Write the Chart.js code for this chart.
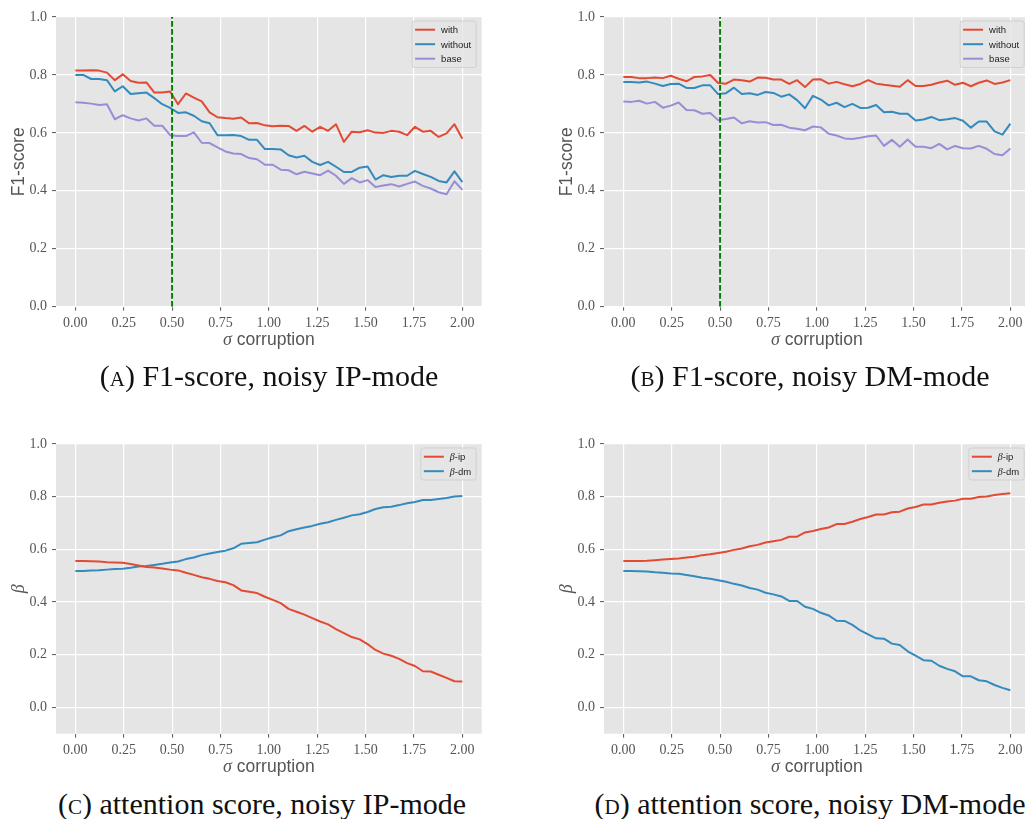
<!DOCTYPE html>
<html>
<head>
<meta charset="utf-8">
<script src="https://cdn.jsdelivr.net/npm/chart.js@4.4.1/dist/chart.umd.min.js"></script>
<style>
  html, body { margin: 0; padding: 0; background: #fff; }
  #page { position: relative; width: 1025px; height: 819px; overflow: hidden; }
  canvas { position: absolute; }
  .cap { position: absolute; width: 500px; text-align: center; font-family: "Liberation Serif", serif;
         font-size: 30px; line-height: 30px; color: #111; white-space: nowrap; }
  .sc { font-variant: small-caps; }
</style>
</head>
<body>
<div id="page">
  <canvas id="chart-a" width="500" height="360" style="left:0px;top:0px"></canvas>
  <canvas id="chart-b" width="500" height="360" style="left:548px;top:0px"></canvas>
  <canvas id="chart-c" width="500" height="360" style="left:0px;top:427px"></canvas>
  <canvas id="chart-d" width="500" height="360" style="left:548px;top:427px"></canvas>
  <div class="cap" style="left:19px;top:361px"><span class="sc">(a)</span> F1-score, noisy IP-mode</div>
  <div class="cap" style="left:560px;top:361px"><span class="sc">(b)</span> F1-score, noisy DM-mode</div>
  <div class="cap" style="left:12px;top:789px"><span class="sc">(c)</span> attention score, noisy IP-mode</div>
  <div class="cap" style="left:560px;top:789px"><span class="sc">(d)</span> attention score, noisy DM-mode</div>
</div>
<script>
// noise levels (sigma) the models were evaluated at
var sigma = [0, 0.0408, 0.0816, 0.1224, 0.1633, 0.2041, 0.2449, 0.2857, 0.3265, 0.3673,
             0.4082, 0.4490, 0.4898, 0.5306, 0.5714, 0.6122, 0.6531, 0.6939, 0.7347, 0.7755,
             0.8163, 0.8571, 0.8980, 0.9388, 0.9796, 1.0204, 1.0612, 1.1020, 1.1429, 1.1837,
             1.2245, 1.2653, 1.3061, 1.3469, 1.3878, 1.4286, 1.4694, 1.5102, 1.5510, 1.5918,
             1.6327, 1.6735, 1.7143, 1.7551, 1.7959, 1.8367, 1.8776, 1.9184, 1.9592, 2.0];
var xTicks = [0, 0.25, 0.5, 0.75, 1.0, 1.25, 1.5, 1.75, 2.0];
var yTicks = [0, 0.2, 0.4, 0.6, 0.8, 1.0];
var cutoff = 0.5;

// F1-score, noisy IP-mode
var ipWith = [0.815, 0.815, 0.816, 0.815, 0.808, 0.782, 0.802, 0.779, 0.773, 0.774,
              0.739, 0.739, 0.743, 0.699, 0.736, 0.722, 0.709, 0.671, 0.654, 0.651,
              0.649, 0.653, 0.633, 0.634, 0.626, 0.623, 0.625, 0.624, 0.607, 0.624,
              0.604, 0.621, 0.607, 0.630, 0.569, 0.604, 0.602, 0.609, 0.601, 0.600,
              0.607, 0.604, 0.592, 0.621, 0.604, 0.607, 0.586, 0.598, 0.630, 0.580];
var ipWithout = [0.800, 0.800, 0.786, 0.786, 0.782, 0.743, 0.761, 0.734, 0.737, 0.739,
                 0.720, 0.699, 0.686, 0.669, 0.671, 0.659, 0.640, 0.633, 0.592, 0.592,
                 0.593, 0.589, 0.576, 0.576, 0.544, 0.544, 0.543, 0.523, 0.515, 0.521,
                 0.500, 0.489, 0.500, 0.483, 0.465, 0.465, 0.480, 0.484, 0.439, 0.454,
                 0.448, 0.452, 0.452, 0.469, 0.458, 0.448, 0.434, 0.429, 0.467, 0.430];
var ipBase = [0.706, 0.704, 0.701, 0.696, 0.699, 0.647, 0.661, 0.650, 0.643, 0.650,
              0.625, 0.625, 0.592, 0.589, 0.589, 0.602, 0.566, 0.565, 0.550, 0.536,
              0.529, 0.527, 0.513, 0.509, 0.490, 0.490, 0.473, 0.471, 0.457, 0.466,
              0.460, 0.454, 0.470, 0.452, 0.424, 0.444, 0.429, 0.437, 0.413, 0.418,
              0.423, 0.415, 0.424, 0.432, 0.417, 0.408, 0.395, 0.388, 0.433, 0.403];

// F1-score, noisy DM-mode
var dmWith = [0.793, 0.793, 0.789, 0.789, 0.791, 0.789, 0.797, 0.787, 0.778, 0.793,
              0.795, 0.800, 0.772, 0.770, 0.784, 0.782, 0.777, 0.791, 0.790, 0.784,
              0.784, 0.769, 0.782, 0.758, 0.784, 0.785, 0.770, 0.776, 0.768, 0.761,
              0.769, 0.782, 0.770, 0.766, 0.763, 0.759, 0.782, 0.762, 0.762, 0.766,
              0.774, 0.780, 0.766, 0.773, 0.761, 0.773, 0.781, 0.769, 0.774, 0.782];
var dmWithout = [0.776, 0.776, 0.774, 0.777, 0.770, 0.762, 0.769, 0.770, 0.755, 0.755,
                 0.764, 0.764, 0.734, 0.737, 0.756, 0.734, 0.737, 0.731, 0.741, 0.738,
                 0.725, 0.733, 0.713, 0.685, 0.728, 0.715, 0.695, 0.704, 0.689, 0.700,
                 0.686, 0.687, 0.696, 0.671, 0.673, 0.666, 0.666, 0.643, 0.646, 0.655,
                 0.644, 0.647, 0.651, 0.642, 0.618, 0.639, 0.639, 0.605, 0.594, 0.632];
var dmBase = [0.708, 0.707, 0.711, 0.701, 0.707, 0.687, 0.694, 0.705, 0.679, 0.678,
              0.666, 0.669, 0.644, 0.648, 0.653, 0.633, 0.640, 0.636, 0.637, 0.627,
              0.628, 0.618, 0.614, 0.609, 0.622, 0.619, 0.597, 0.591, 0.581, 0.579,
              0.583, 0.588, 0.591, 0.555, 0.576, 0.552, 0.577, 0.552, 0.552, 0.547,
              0.562, 0.543, 0.555, 0.547, 0.546, 0.555, 0.545, 0.527, 0.523, 0.546];

// attention score, noisy IP-mode
var ipBetaIp = [0.556, 0.556, 0.555, 0.554, 0.551, 0.550, 0.549, 0.544, 0.539, 0.533,
                0.531, 0.527, 0.523, 0.520, 0.511, 0.503, 0.494, 0.488, 0.480, 0.475,
                0.464, 0.444, 0.439, 0.434, 0.420, 0.408, 0.396, 0.374, 0.363, 0.352,
                0.339, 0.326, 0.315, 0.297, 0.282, 0.267, 0.258, 0.240, 0.218, 0.204,
                0.196, 0.184, 0.168, 0.157, 0.137, 0.136, 0.124, 0.112, 0.099, 0.098];
var ipBetaDm = [0.518, 0.518, 0.520, 0.521, 0.523, 0.525, 0.526, 0.530, 0.535, 0.537,
                0.541, 0.545, 0.550, 0.554, 0.563, 0.569, 0.578, 0.584, 0.590, 0.595,
                0.604, 0.621, 0.624, 0.627, 0.637, 0.646, 0.653, 0.669, 0.676, 0.683,
                0.689, 0.697, 0.703, 0.712, 0.720, 0.729, 0.733, 0.742, 0.753, 0.760,
                0.762, 0.768, 0.775, 0.780, 0.787, 0.787, 0.791, 0.795, 0.801, 0.803];

// attention score, noisy DM-mode
var dmBetaIp = [0.556, 0.556, 0.556, 0.557, 0.559, 0.561, 0.563, 0.565, 0.569, 0.572,
                0.578, 0.581, 0.586, 0.591, 0.598, 0.603, 0.612, 0.617, 0.626, 0.631,
                0.636, 0.648, 0.648, 0.664, 0.670, 0.677, 0.683, 0.696, 0.696, 0.705,
                0.715, 0.723, 0.732, 0.732, 0.741, 0.743, 0.755, 0.761, 0.770, 0.770,
                0.777, 0.782, 0.785, 0.792, 0.792, 0.799, 0.801, 0.806, 0.810, 0.813];
var dmBetaDm = [0.518, 0.518, 0.517, 0.516, 0.513, 0.511, 0.508, 0.507, 0.503, 0.498,
                0.492, 0.488, 0.483, 0.477, 0.469, 0.463, 0.453, 0.447, 0.435, 0.429,
                0.421, 0.404, 0.404, 0.382, 0.374, 0.359, 0.349, 0.329, 0.328, 0.313,
                0.292, 0.277, 0.262, 0.261, 0.242, 0.237, 0.213, 0.196, 0.179, 0.177,
                0.158, 0.146, 0.137, 0.118, 0.118, 0.103, 0.099, 0.085, 0.074, 0.065];

var RED = '#E24A33', BLUE = '#348ABD', PURPLE = '#988ED5';
var SANS = '"Liberation Sans", Arial, sans-serif';
var SERIF = '"Liberation Serif", serif';

function points(values) {
    return sigma.map(function (s, i) { return { x: s, y: values[i] }; });
}

function series(label, values, color) {
    return {
        label: label,
        data: points(values),
        borderColor: color,
        borderWidth: 2,
        pointRadius: 0,
        tension: 0,
        borderJoinStyle: 'round'
    };
}

function cutoffLine() {
    return {
        data: [{ x: cutoff, y: 0 }, { x: cutoff, y: 1 }],
        borderColor: '#008000',
        borderWidth: 2,
        borderDash: [5.6, 2.4],
        pointRadius: 0,
        order: -1
    };
}

// split a label into runs: greek letters in italic serif, the rest in sans
function textRuns(str, size, greekSize) {
    var runs = [];
    for (var i = 0; i < str.length; i++) {
        var ch = str[i];
        var greek = /[\u0370-\u03ff]/.test(ch);
        var font = greek ? 'italic ' + greekSize + 'px ' + SERIF : size + 'px ' + SANS;
        if (runs.length && runs[runs.length - 1].font === font) {
            runs[runs.length - 1].text += ch;
        } else {
            runs.push({ text: ch, font: font });
        }
    }
    return runs;
}

function runsWidth(ctx, runs) {
    var w = 0;
    runs.forEach(function (r) { ctx.font = r.font; r.w = ctx.measureText(r.text).width; w += r.w; });
    return w;
}

function drawRuns(ctx, runs, x, y, center) {
    var total = runsWidth(ctx, runs);
    var cx = center ? x - total / 2 : x;
    ctx.textAlign = 'left';
    ctx.textBaseline = 'alphabetic';
    runs.forEach(function (r) { ctx.font = r.font; ctx.fillText(r.text, cx, y); cx += r.w; });
}

// grey panel, axis titles and the boxed legend in the upper right corner
var ggplotFrame = {
    id: 'ggplotFrame',
    beforeDraw: function (chart) {
        var a = chart.chartArea, ctx = chart.ctx;
        ctx.save();
        ctx.fillStyle = '#E5E5E5';
        ctx.fillRect(a.left, a.top, a.right - a.left, a.bottom - a.top);
        ctx.restore();
    },
    afterDraw: function (chart, args, opts) {
        var a = chart.chartArea, ctx = chart.ctx;
        ctx.save();
        ctx.fillStyle = '#555555';
        drawRuns(ctx, textRuns(opts.xTitle, 17.5, 18), (a.left + a.right) / 2, a.bottom + 38.5, true);

        ctx.translate(a.left - 32.5, (a.top + a.bottom) / 2);
        ctx.rotate(-Math.PI / 2);
        drawRuns(ctx, textRuns(opts.yTitle, 17.5, 18), 0, 0, true);
        ctx.restore();

        // legend
        var items = chart.data.datasets.filter(function (d) { return d.label; });
        var rowH = 14.5, maxW = 0;
        items.forEach(function (d) {
            d._runs = textRuns(d.label, 9.5, 10);
            maxW = Math.max(maxW, runsWidth(ctx, d._runs));
        });
        var w = 3 + 20 + 6 + maxW + 5, h = items.length * rowH + 3;
        var bx = a.right - 5.5 - w, by = a.top + 4;
        ctx.save();
        ctx.beginPath();
        ctx.roundRect(bx, by, w, h, 2.5);
        ctx.fillStyle = 'rgba(229,229,229,0.8)';
        ctx.fill();
        ctx.strokeStyle = 'rgba(204,204,204,0.8)';
        ctx.lineWidth = 1;
        ctx.stroke();
        items.forEach(function (d, i) {
            var yy = by + 8.7 + i * rowH;
            ctx.beginPath();
            ctx.moveTo(bx + 3, yy);
            ctx.lineTo(bx + 23, yy);
            ctx.strokeStyle = d.borderColor;
            ctx.lineWidth = 2;
            ctx.stroke();
            ctx.fillStyle = '#222222';
            drawRuns(ctx, d._runs, bx + 29, yy + 3.4, false);
        });
        ctx.restore();
    }
};

function makePanel(id, datasets, yMin, yTitle) {
    return new Chart(document.getElementById(id), {
        type: 'line',
        data: { datasets: datasets },
        plugins: [ggplotFrame],
        options: {
            responsive: false,
            animation: false,
            devicePixelRatio: 1,
            layout: { padding: { top: 17, right: 18.3, left: 0, bottom: 0 } },
            plugins: {
                legend: { display: false },
                tooltip: { enabled: false },
                ggplotFrame: { xTitle: 'σ corruption', yTitle: yTitle }
            },
            scales: {
                x: {
                    type: 'linear',
                    min: -0.1,
                    max: 2.1,
                    afterBuildTicks: function (scale) {
                        scale.ticks = xTicks.map(function (v) { return { value: v }; });
                    },
                    afterFit: function (scale) { scale.height = 53.3; },
                    grid: { color: '#ffffff', lineWidth: 1.2, tickColor: '#555555', tickLength: 4, tickWidth: 1 },
                    border: { display: false },
                    ticks: {
                        autoSkip: false,
                        maxRotation: 0,
                        padding: 4,
                        color: '#555555',
                        font: { family: SERIF, size: 14 },
                        callback: function (v) { return v.toFixed(2); }
                    }
                },
                y: {
                    min: yMin,
                    max: 1,
                    afterBuildTicks: function (scale) {
                        scale.ticks = yTicks.map(function (v) { return { value: v }; });
                    },
                    afterFit: function (scale) { scale.width = 56; },
                    grid: { color: '#ffffff', lineWidth: 1.2, tickColor: '#555555', tickLength: 4, tickWidth: 1 },
                    border: { display: false },
                    ticks: {
                        padding: 5,
                        color: '#555555',
                        font: { family: SERIF, size: 14 },
                        callback: function (v) { return v.toFixed(1); }
                    }
                }
            }
        }
    });
}

window.onload = function () {
    makePanel('chart-a', [
        series('with', ipWith, RED),
        series('without', ipWithout, BLUE),
        series('base', ipBase, PURPLE),
        cutoffLine()
    ], 0, 'F1-score');

    makePanel('chart-b', [
        series('with', dmWith, RED),
        series('without', dmWithout, BLUE),
        series('base', dmBase, PURPLE),
        cutoffLine()
    ], 0, 'F1-score');

    makePanel('chart-c', [
        series('β-ip', ipBetaIp, RED),
        series('β-dm', ipBetaDm, BLUE)
    ], -0.1, 'β');

    makePanel('chart-d', [
        series('β-ip', dmBetaIp, RED),
        series('β-dm', dmBetaDm, BLUE)
    ], -0.1, 'β');
};
</script>
</body>
</html>
